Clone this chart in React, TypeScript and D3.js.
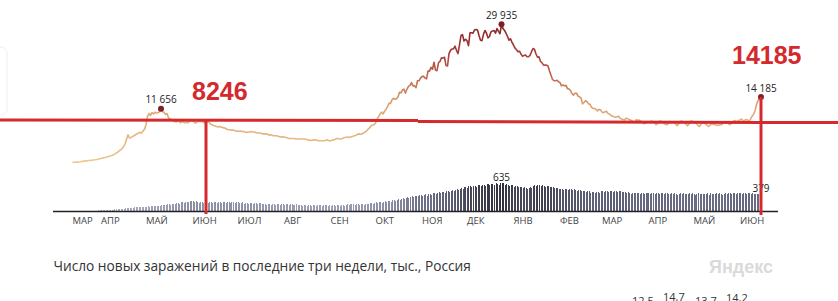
import React from "react";
import * as d3 from "d3";

const START_DATE = "2020-03-13";
const AXIS_START = "2020-03-01";
const AXIS_END = "2021-06-26";

// Daily new cases, thousands (Mar 13 2020 .. Jun 15 2021)
const casesMar20 = [0.03,0.05,0.06,0.09,0.11,0.15,0.2,0.25,0.3,0.35,0.38,0.42,0.46,0.5,0.55,0.6,0.65,0.72,0.8];
const casesApr20 = [0.85,0.95,1.05,1.1,1.2,1.3,1.4,1.5,1.6,1.8,2.0,2.2,2.5,2.7,3.0,3.4,4.0,5.0,6.0,5.3,5.4,5.6,5.8,6.0,6.2,6.4,6.5,6.4,6.8,7.2];
const casesMay20 = [8.2,10.0,10.6,10.2,10.8,10.5,10.9,10.7,10.8,11.0,11.656,11.0,10.9,10.4,10.6,9.7,9.5,9.3,9.0,8.9,8.8,8.9,9.0,8.6,8.9,8.7,8.6,8.7,8.6,8.9,9.0];
const casesJun20 = [9.0,8.8,8.5,8.8,8.9,8.9,8.9,8.8,8.6,8.8,8.9,8.7,8.3,8.2,8.0,7.9,7.8,7.7,7.8,7.7,7.6,7.5,7.4,7.2,7.1,7.1,7.0,7.1,6.9,6.8];
const casesJul20 = [6.8,6.7,6.8,6.7,6.7,6.6,6.5,6.6,6.6,6.7,6.6,6.6,6.5,6.4,6.4,6.4,6.3,6.2,6.2,6.1,6.2,5.9,6.0,5.9,5.8,5.8,5.8,5.7,5.6,5.5,5.6];
const casesAug20 = [5.5,5.4,5.4,5.2,5.2,5.2,5.2,5.2,5.1,5.1,5.1,5.1,5.1,5.1,5.1,5.0,4.9,4.8,4.8,4.8,4.9,4.9,4.8,4.7,4.7,4.7,4.7,4.7,4.8,4.9,4.7];
const casesSep20 = [4.7,4.8,4.9,5.0,5.2,5.2,5.1,5.1,5.2,5.4,5.4,5.5,5.4,5.5,5.6,5.7,5.8,5.9,6.1,6.2,6.1,6.2,6.4,6.6,6.8,7.2,7.5,7.9,8.1,8.2];
const casesOct20 = [8.5,9.4,9.9,10.5,10.9,10.5,11.1,11.5,12.1,12.8,12.8,13.6,13.9,13.7,13.8,14.2,15.2,15.1,15.7,15.9,15.0,15.9,16.5,16.7,17.3,16.6,16.6,16.2,17.7,17.7,18.3];
const casesNov20 = [18.6,18.7,18.3,18.1,19.8,19.8,20.6,20.2,21.7,20.0,19.9,21.6,21.9,22.7,22.6,22.8,21.0,20.9,23.6,24.3,24.6,24.6,25.2,24.3,23.6,25.5,27.5,27.7,26.3,26.7];
const casesDec20 = [26.4,25.3,28.1,28.1,28.0,28.7,28.8,28.7,27.5,26.5,26.4,27.8,28.6,28.0,27.0,27.3,28.3,28.5,28.6,28.0,29.0,28.4,27.9,29.935,29.0,28.6,28.0,27.3,26.5,26.8,26.0];
const casesJan21 = [25.4,24.8,24.4,24.0,24.1,23.5,23.0,23.2,23.3,22.9,22.9,23.2,24.0,24.7,24.5,23.5,22.8,22.9,21.9,21.6,21.1,21.1,21.1,20.9,19.8,18.9,18.0,17.7,17.7,17.8,17.5];
const casesFeb21 = [17.3,16.6,16.8,16.6,16.7,16.0,15.9,15.6,14.9,14.6,15.0,15.0,14.4,14.2,14.0,12.7,13.0,13.4,13.2,12.7,12.6,12.0,11.7,11.7,11.5,11.2,11.5,11.4];
const casesMar21 = [10.9,10.8,11.0,11.1,10.6,10.5,10.2,10.0,9.9,9.8,9.9,10.0,9.6,9.4,9.3,9.2,9.6,9.5,9.3,9.2,9.0,8.7,8.9,9.3,9.1,9.2,8.9,8.8,8.4,8.6,8.8];
const casesApr21 = [8.7,8.8,9.0,8.8,8.7,8.2,8.4,8.9,9.0,8.8,8.6,8.3,8.2,8.3,8.9,8.7,8.7,8.8,8.4,8.0,8.3,8.9,9.0,8.7,8.6,8.3,8.0,8.3,9.0,9.0];
const casesMay21 = [8.7,8.7,8.5,8.0,7.8,8.3,8.8,8.5,8.4,8.1,7.8,8.1,8.3,8.3,8.2,8.2,8.0,8.1,8.2,8.2,8.8,8.8,8.5,8.6,8.2,8.4,8.9,9.0,9.1,8.8,9.1];
const casesJun21 = [9.2,9.4,9.0,9.1,9.3,9.2,8.9,9.4,10.0,10.4,11.2,12.5,13.4,13.9,14.185];

// Daily deaths (same dates)
const deathsMar20 = [0,0,0,0,0,1,0,1,1,2,3,4,5,8,9,10,10,12,14];
const deathsApr20 = [16,18,20,22,24,26,28,30,32,35,38,40,42,45,48,52,58,62,68,70,72,75,78,80,82,85,88,90,92,95];
const deathsMay20 = [100,102,95,108,110,112,105,118,120,112,125,130,135,128,145,150,140,160,165,150,175,180,165,190,195,180,205,210,190,218,220];
const deathsJun20 = [222,200,215,210,185,200,195,170,190,195,175,205,210,180,195,205,175,200,195,170,205,195,175,205,210,180,195,190,170,200];
const deathsJul20 = [195,170,185,190,165,180,175,160,185,175,150,175,170,150,170,170,145,160,165,140,155,160,140,150,155,135,155,150,130,150,150];
const deathsAug20 = [130,150,145,125,145,150,130,140,145,125,135,140,120,140,135,118,135,130,120,130,135,118,125,130,135,115,125,130,130,115,130];
const deathsSep20 = [115,130,130,115,130,135,120,135,140,122,140,145,128,145,150,150,132,155,150,140,160,160,140,165,165,152,175,170,160,185];
const deathsOct20 = [190,175,200,205,185,210,215,200,225,230,210,240,245,230,255,260,245,270,280,265,300,305,285,320,330,305,340,345,325,355,360];
const deathsNov20 = [340,365,370,345,370,375,355,390,395,375,410,415,395,415,425,405,440,445,425,455,460,440,475,480,460,500,510,490,530,540];
const deathsDec20 = [515,550,555,530,560,565,540,575,580,555,590,585,560,595,600,575,600,610,580,615,610,590,625,635,615,590,600,590,560,575,570];
const deathsJan21 = [540,560,555,525,545,540,515,530,520,495,510,525,515,555,570,550,585,580,550,570,565,535,555,550,525,545,540,510,520,510,480];
const deathsFeb21 = [500,495,465,488,485,470,495,490,460,480,475,450,465,460,440,455,450,425,440,435,410,425,420,400,420,425,410,435];
const deathsMar21 = [435,420,440,435,415,445,440,415,440,435,415,435,440,415,430,425,400,415,410,385,400,405,390,405,400,385,410,405,380,395,400];
const deathsApr21 = [405,380,395,400,385,400,395,375,405,400,380,390,395,370,385,390,375,390,385,365,385,390,370,390,385,370,385,390,375,390];
const deathsMay21 = [385,365,385,390,370,380,385,370,385,390,365,390,385,370,385,390,375,390,385,365,385,390,375,390,395,380,395,400,380,400,405];
const deathsJun21 = [400,385,400,395,380,395,390,375,390,385,370,385,380,370,379];

const monthLabels = ["МАР","АПР","МАЙ","ИЮН","ИЮЛ","АВГ","СЕН","ОКТ","НОЯ","ДЕК","ЯНВ","ФЕВ","МАР","АПР","МАЙ","ИЮН"];
const monthTickDates = ["2020-03-13","2020-04-01","2020-05-01","2020-06-01","2020-07-01","2020-08-01","2020-09-01","2020-10-01","2020-11-01","2020-12-01","2021-01-01","2021-02-01","2021-03-01","2021-04-01","2021-05-01","2021-06-01"];

const caseLabelDates = ["2020-05-11","2020-12-24","2021-06-15"];
const caseLabelValues = [11656, 29935, 14185];
const deathLabelDates = ["2020-12-24","2021-06-15"];
const deathLabelValues = [635, 379];

const titleText = "Число новых заражений в последние три недели, тыс., Россия";
const nextChartValues = ["12,5","14,7","13,7","14,2"];
const annotationTexts = ["8246","14185"];
const annotationDates = ["2020-06-10","2021-06-15"];

const casesK = [...casesMar20,...casesApr20,...casesMay20,...casesJun20,...casesJul20,...casesAug20,...casesSep20,...casesOct20,...casesNov20,...casesDec20,...casesJan21,...casesFeb21,...casesMar21,...casesApr21,...casesMay21,...casesJun21];
const deaths = [...deathsMar20,...deathsApr20,...deathsMay20,...deathsJun20,...deathsJul20,...deathsAug20,...deathsSep20,...deathsOct20,...deathsNov20,...deathsDec20,...deathsJan21,...deathsFeb21,...deathsMar21,...deathsApr21,...deathsMay21,...deathsJun21];

const W = 838, H = 301;
const parse = (s: string) => new Date(s + "T00:00:00Z");
const fmt = (v: number) => d3.format(",")(v).replace(/,/g, " ");

export default function App() {
  const start = parse(START_DATE);
  const dates = casesK.map((_, i) => d3.utcDay.offset(start, i));
  const x = d3.scaleUtc().domain([parse(AXIS_START), parse(AXIS_END)]).range([54.5, 777.5]);
  const yL = d3.scaleLinear().domain([0, 29.935]).range([162.5, 24.3]);
  const yB = d3.scaleLinear().domain([0, 635]).range([211, 182.5]);
  const barColor = d3.scaleLinear<string>().domain([0, 250, 450, 635]).range(["#b3b5c8", "#84869f", "#5a5c72", "#2e2e3a"]);

  const linePath = d3.line<number>().x((_, i) => x(dates[i])).y((v) => yL(v)).curve(d3.curveLinear)(casesK) || "";
  const red = "#d42a2d";
  const font = "'Open Sans', 'Noto Sans', Arial, sans-serif";

  return (
    <svg width={W} height={H} style={{ position: "absolute", left: 0, top: 0, background: "#fff" }} fontFamily={font}>
      <defs>
        <linearGradient id="lg" gradientUnits="userSpaceOnUse" x1={0} y1={yL(0)} x2={0} y2={yL(29.935)}>
          <stop offset="0" stopColor="#ecc690" />
          <stop offset="0.42" stopColor="#dca26f" />
          <stop offset="0.62" stopColor="#c0684f" />
          <stop offset="0.8" stopColor="#a53a36" />
          <stop offset="1" stopColor="#8c2428" />
        </linearGradient>
      </defs>
      <rect x={-20} y={47} width={27} height={68} rx={6} fill="none" stroke="#efefef" />
      {/* bars */}
      <g shapeRendering="crispEdges">
        {deaths.map((v, i) =>
          v > 0 ? (
            <rect key={i} x={Math.round(x(dates[i]))} y={yB(v)} width={1} height={yB(0) - yB(v)} fill={barColor(v)} />
          ) : null
        )}
      </g>
      <line x1={53} x2={778} y1={211.5} y2={211.5} stroke="#222" strokeWidth={1.3} />
      {monthLabels.map((m, i) => (
        <text key={i} x={x(parse(monthTickDates[i]))} y={224} fontSize={9.5} fill="#444">{m}</text>
      ))}
      {/* line */}
      <path d={linePath} fill="none" stroke="url(#lg)" strokeWidth={1.6} strokeLinejoin="round" />
      {caseLabelDates.map((d, i) => (
        <g key={i}>
          <circle cx={x(parse(d))} cy={yL(caseLabelValues[i] / 1000)} r={3} fill="#7d1f26" />
          <text x={x(parse(d))} y={yL(caseLabelValues[i] / 1000) - 5.5} fontSize={10} fill="#222" textAnchor="middle">{fmt(caseLabelValues[i])}</text>
        </g>
      ))}
      {deathLabelDates.map((d, i) => (
        <text key={i} x={x(parse(d))} y={yB(deathLabelValues[i]) - 2} fontSize={10} fill="#222" textAnchor="middle">{fmt(deathLabelValues[i])}</text>
      ))}
      <text x={53.5} y={271} fontSize={13.7} fill="#333">{titleText}</text>
      <text x={709} y={273} fontSize={18} fontWeight="bold" fill="#dadada" fontFamily="Arial, 'Liberation Sans', sans-serif">Яндекс</text>
      {nextChartValues.map((t, i) => (
        <text key={i} x={[632, 663, 695, 726][i]} y={[305, 301, 305, 302][i]} fontSize={11} fill="#333">{t}</text>
      ))}
      {/* annotations */}
      <line x1={0} x2={418} y1={120} y2={120.6} stroke={red} strokeWidth={3} />
      <line x1={418} x2={838} y1={121.4} y2={122.6} stroke={red} strokeWidth={3} />
      <line x1={x(parse(annotationDates[0]))} x2={x(parse(annotationDates[0]))} y1={120} y2={214} stroke={red} strokeWidth={3} />
      <line x1={x(parse(annotationDates[1]))} x2={x(parse(annotationDates[1]))} y1={yL(14.185)} y2={215} stroke={red} strokeWidth={3} />
      <text x={192} y={99.5} fontSize={25} fontWeight="bold" fill={red} fontFamily="Arial, 'Liberation Sans', sans-serif">{annotationTexts[0]}</text>
      <text x={732} y={63.5} fontSize={25} fontWeight="bold" fill={red} fontFamily="Arial, 'Liberation Sans', sans-serif">{annotationTexts[1]}</text>
    </svg>
  );
}
